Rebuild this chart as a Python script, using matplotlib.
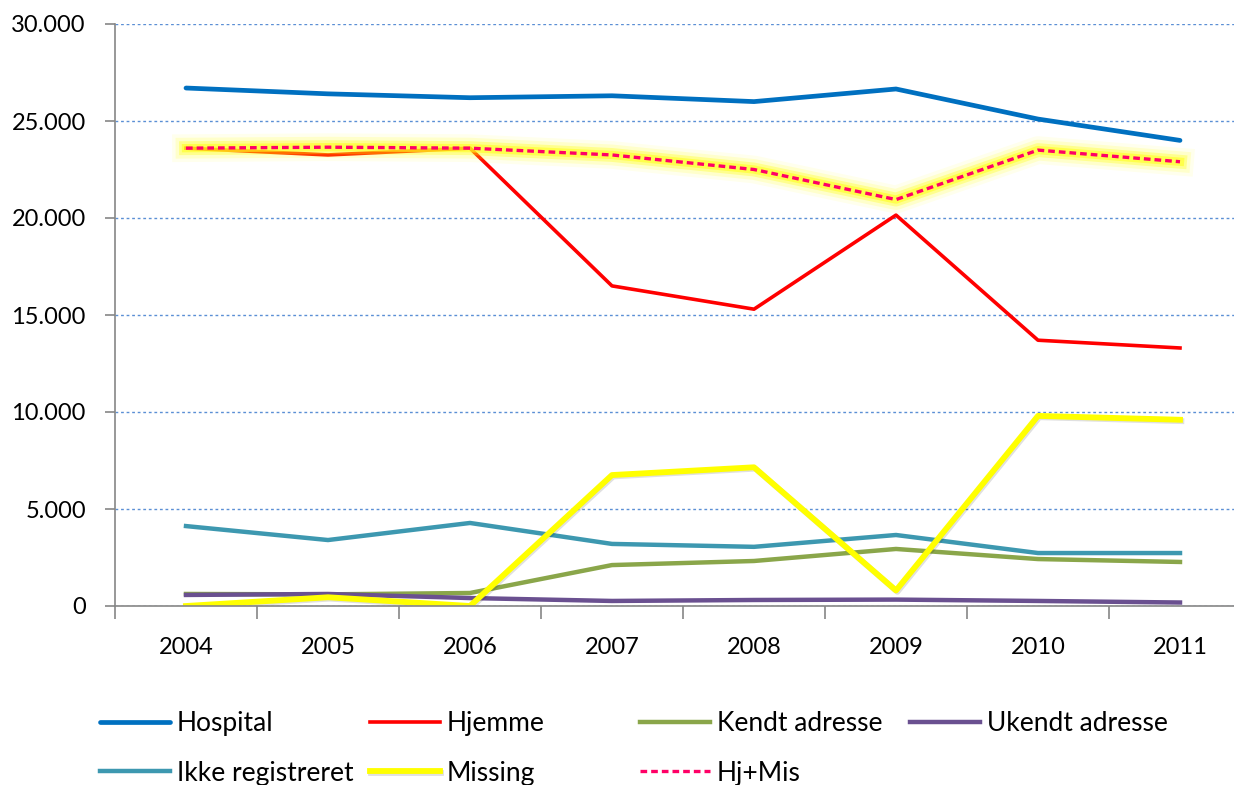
import matplotlib
matplotlib.use("Agg")
import matplotlib.pyplot as plt
import matplotlib.patheffects as pe
from matplotlib.ticker import FuncFormatter, MultipleLocator

years = ["2004", "2005", "2006", "2007", "2008", "2009", "2010", "2011"]

hospital = [26700, 26400, 26200, 26300, 26000, 26650, 25100, 24000]
hjemme = [23600, 23250, 23600, 16500, 15300, 20150, 13700, 13300]
kendt = [620, 600, 670, 2110, 2320, 2940, 2420, 2270]
ukendt = [570, 620, 410, 260, 310, 330, 260, 180]
ikke_reg = [4120, 3400, 4280, 3200, 3050, 3660, 2730, 2730]
missing = [0, 450, 0, 6750, 7150, 800, 9800, 9600]
hj_mis = [23600, 23650, 23600, 23250, 22500, 20950, 23500, 22900]

plt.rcParams['font.family'] = ['Lato', 'DejaVu Sans']

fig = plt.figure(figsize=(12.34, 7.85), dpi=100)
ax = fig.add_axes([115 / 1234, 179 / 785, 1136 / 1234, 582 / 785])

x = list(range(len(years)))

l_hosp, = ax.plot(x, hospital, color="#0070C0", lw=3.4, label="Hospital", solid_capstyle="round")
l_hj, = ax.plot(x, hjemme, color="#FF0000", lw=2.6, label="Hjemme")
l_kendt, = ax.plot(x, kendt, color="#8AA64A", lw=3.2, label="Kendt adresse")
l_ukendt, = ax.plot(x, ukendt, color="#6A5090", lw=3.2, label="Ukendt adresse")
l_ikke, = ax.plot(x, ikke_reg, color="#3D98B0", lw=3.2, label="Ikke registreret")
l_miss, = ax.plot(x, missing, color="#FFFF00", lw=4.2, label="Missing",
                  path_effects=[pe.SimpleLineShadow(offset=(1, -1), alpha=0.12), pe.Normal()])

# gul glød bag Hj+Mis
ax.plot(x, hj_mis, color="#FFFF00", lw=3, alpha=0.0, label="_nolegend_",
        path_effects=[pe.Stroke(linewidth=20, foreground="#FFFF00", alpha=0.07),
                      pe.Stroke(linewidth=15, foreground="#FFFF00", alpha=0.14),
                      pe.Stroke(linewidth=10, foreground="#FFFF00", alpha=0.3),
                      pe.Stroke(linewidth=6, foreground="#FFFF20", alpha=0.6)])
l_hjmis, = ax.plot(x, hj_mis, color="#FF0066", lw=2.4, ls=(0, (2, 1.2)), label="Hj+Mis")

ax.set_xlim(-0.5, 7.5)
ax.set_ylim(0, 30000)
ax.yaxis.set_major_locator(MultipleLocator(5000))
ax.yaxis.set_major_formatter(FuncFormatter(lambda v, p: f"{int(v):,}".replace(",", ".")))
ax.set_xticks(x)
ax.set_xticklabels(years)
ax.set_xticks([i + 0.5 for i in range(-1, 8)], minor=True)

ax.grid(axis="y", color="#5B8FD5", ls=(0, (2, 2)), lw=1.0)
ax.set_axisbelow(True)
for s in ["top", "right"]:
    ax.spines[s].set_visible(False)
for s in ["left", "bottom"]:
    ax.spines[s].set_color("#868686")
    ax.spines[s].set_linewidth(1.2)

ax.tick_params(axis="x", which="major", length=0, labelsize=17, pad=22)
ax.tick_params(axis="x", which="minor", length=9, color="#868686", width=1.2)
ax.tick_params(axis="y", length=7, color="#868686", width=1.2, labelsize=17, pad=14)

# Legenden: fire kolonner med lige bredde
columns = [[l_hosp, l_ikke], [l_hj, l_miss], [l_kendt, l_hjmis], [l_ukendt]]
col_x = [100, 370, 640, 910]
for cx, col in zip(col_x, columns):
    fig.legend(handles=col, labels=[h.get_label() for h in col],
               loc="upper left", bbox_to_anchor=(cx / 1234, 1 - 711 / 785),
               frameon=False, fontsize=19, handlelength=2.65, handletextpad=0.27,
               borderpad=0, borderaxespad=0, labelspacing=0.93)

fig.savefig("out.png", dpi=100)
